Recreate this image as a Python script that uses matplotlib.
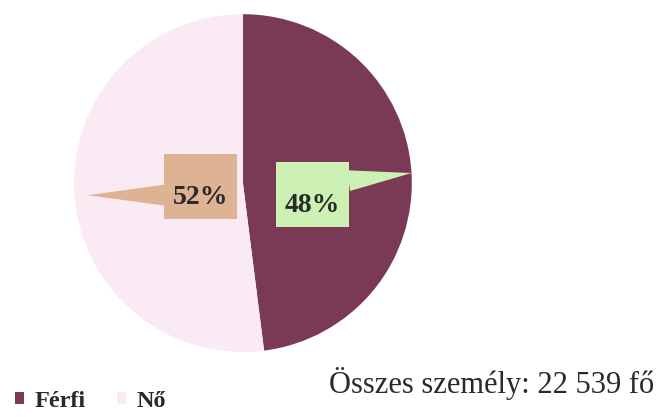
import matplotlib
matplotlib.use("Agg")
import matplotlib.pyplot as plt
import numpy as np

categories = ["Férfi", "Nő"]
values = [48, 52]
labels = ["48%", "52%"]
total_text = "Összes személy: 22 539 fő"

colors = ["#7A3A56", "#F9EAF3"]
box_colors = ["#CDF0B4", "#DDB394"]
# label box centres (in pie-radius units), pointer tip (angle deg, radius), pointer root
box_pos = [(0.41, -0.065), (-0.25, -0.018)]
tips = [(3.4, 1.0), (184.5, 0.92)]
relpos = [(0.5, 0.69), (0.5, 0.31)]

fig = plt.figure(figsize=(6.61, 4.17), dpi=100)
ax = fig.add_axes([0.112, 0.156, 0.511, 0.81])
wedges, _ = ax.pie(values, colors=colors, startangle=90, counterclock=False,
                   radius=1.0, wedgeprops=dict(linewidth=0))
ax.set_xlim(-1, 1)
ax.set_ylim(-1, 1)
ax.set_aspect("equal")
ax.axis("off")

serif = ["Liberation Serif", "DejaVu Serif"]
for lab, bp, (ang, r), bc, rp in zip(labels, box_pos, tips, box_colors, relpos):
    tip = (r * np.cos(np.radians(ang)), r * np.sin(np.radians(ang)))
    ax.annotate("\n" + lab, xy=tip, xytext=bp, ha="center", va="center",
                multialignment="center", linespacing=0.85,
                fontsize=20, fontweight="bold", family=serif, color="#2a2a2a",
                bbox=dict(boxstyle="square,pad=0.32", fc=bc, ec="none"),
                arrowprops=dict(arrowstyle="wedge,tail_width=0.75,shrink_factor=0.5",
                                fc=bc, ec="none", shrinkA=0, shrinkB=0, relpos=rp))

leg = fig.legend(wedges, categories, loc="lower left", bbox_to_anchor=(-0.01, -0.04),
                 ncol=2, frameon=False, handlelength=0.35, handleheight=0.35,
                 handletextpad=0.45, columnspacing=1.3,
                 prop=dict(family=serif, weight="bold", size=17.5))
for t in leg.get_texts():
    t.set_color("#2a2a2a")

fig.text(0.497, 0.058, total_text, ha="left", va="baseline", fontsize=22,
         family=serif, color="#2a2a2a")

fig.savefig("out.png", dpi=100)
